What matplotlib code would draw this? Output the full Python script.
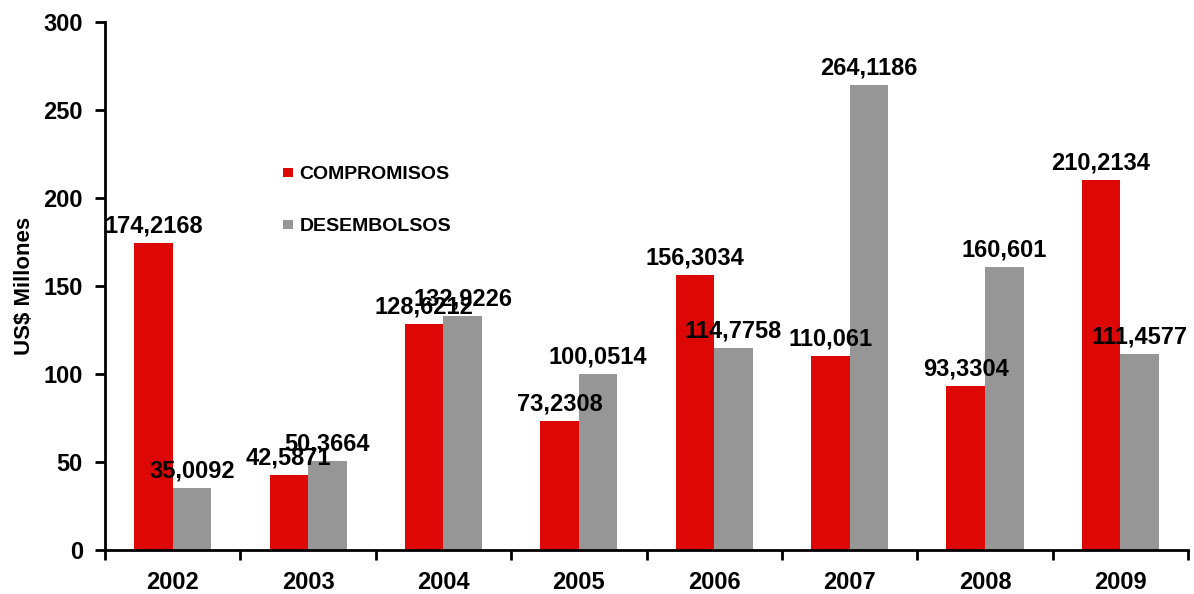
import numpy as np
import matplotlib.pyplot as plt
from matplotlib.ticker import FixedLocator

plt.rcParams['font.family'] = ['Liberation Sans', 'DejaVu Sans']
plt.rcParams['font.weight'] = 'bold'

# %% data ---------------------------------------------------------------------
years = ['2002', '2003', '2004', '2005', '2006', '2007', '2008', '2009']
compromisos = [174.2168, 42.5871, 128.6212, 73.2308, 156.3034, 110.061, 93.3304, 210.2134]
desembolsos = [35.0092, 50.3664, 132.9226, 100.0514, 114.7758, 264.1186, 160.601, 111.4577]

red = '#dd0806'
gray = '#969696'

# %% plot ---------------------------------------------------------------------
fig = plt.figure(figsize=(11.94, 5.94), dpi=100)
ax = fig.add_axes([0.088, 0.074, 0.907, 0.889])

x = np.arange(len(years))
w = 0.285
b1 = ax.bar(x - w/2, compromisos, w, color=red, label='COMPROMISOS')
b2 = ax.bar(x + w/2, desembolsos, w, color=gray, label='DESEMBOLSOS')

# value labels with comma decimals
for bars, vals in [(b1, compromisos), (b2, desembolsos)]:
    for bar, v in zip(bars, vals):
        ax.annotate(str(v).replace('.', ','),
                    (bar.get_x() + bar.get_width()/2, bar.get_height()),
                    xytext=(0, 4), textcoords='offset points',
                    ha='center', va='bottom', fontsize=17, fontweight='bold')

ax.set_xlim(-0.5, len(years) - 0.5)
ax.set_ylim(0, 300)
ax.set_yticks(np.arange(0, 301, 50))

# ticks at category boundaries, labels at centres
ax.xaxis.set_major_locator(FixedLocator(np.arange(-0.5, len(years), 1)))
ax.set_xticklabels([])
ax.xaxis.set_minor_locator(FixedLocator(x))
ax.set_xticklabels(years, minor=True)
ax.tick_params(axis='x', which='major', length=7, width=2)
ax.tick_params(axis='x', which='minor', length=0, pad=15, labelsize=17)
ax.tick_params(axis='y', length=7, width=2, labelsize=17, pad=9)

for s in ['top', 'right']:
    ax.spines[s].set_visible(False)
for s in ['left', 'bottom']:
    ax.spines[s].set_linewidth(2)

ax.set_ylabel('US$ Millones', fontsize=16, fontweight='bold', labelpad=6)

ax.legend(loc='upper left', bbox_to_anchor=(0.148, 0.76), frameon=False,
          handlelength=0.5, handleheight=0.35,
          labelspacing=1.8, handletextpad=0.35,
          prop={'weight': 'bold', 'size': 14})

fig.savefig('out.png', dpi=100)
